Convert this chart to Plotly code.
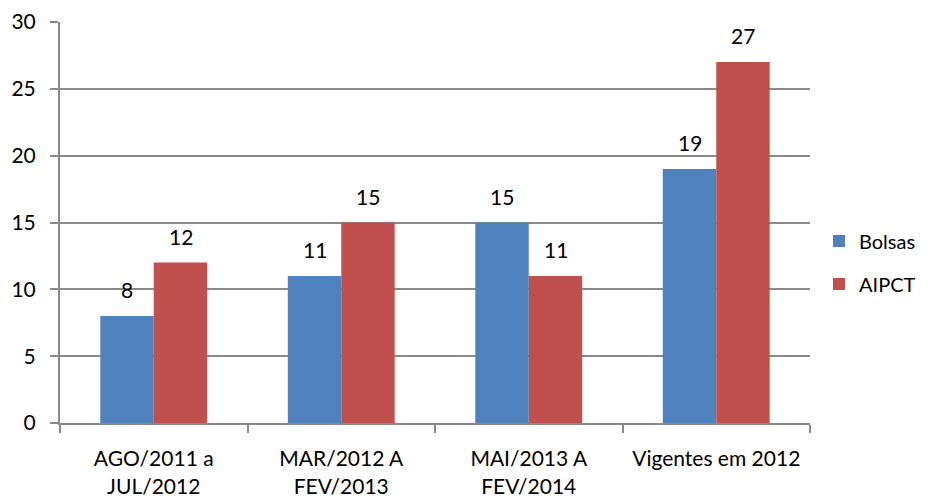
import plotly.graph_objects as go

categorias = ["AGO/2011 a<br>JUL/2012", "MAR/2012 A<br>FEV/2013", "MAI/2013 A<br>FEV/2014", "Vigentes em 2012"]
bolsas = [8, 11, 15, 19]
aipct = [12, 15, 11, 27]

fonte = "Lato, 'Open Sans', sans-serif"
cinza = "#898989"
tam = 21

fig = go.Figure()
fig.add_trace(go.Bar(x=categorias, y=bolsas, name="Bolsas", marker_color="#4F81BD",
                     marker_line_width=0, legendgroup="a"))
fig.add_trace(go.Bar(x=categorias, y=aipct, name="AIPCT", marker_color="#C0504D",
                     marker_line_width=0, legendgroup="b"))

# rótulos de dados acima das barras
for serie, desloc in ((bolsas, -26.75), (aipct, 26.75)):
    for c, v in zip(categorias, serie):
        fig.add_annotation(x=c, y=v, text=str(v), showarrow=False, xshift=desloc,
                           yanchor="bottom", yshift=12, font=dict(size=tam, color="black"))

# a página tem 8px de margem no body, por isso 927x495
fig.update_layout(
    width=927, height=495,
    margin=dict(l=52, r=125, t=14, b=80),
    barmode="group", bargap=0.43, bargroupgap=0,
    plot_bgcolor="white", paper_bgcolor="white",
    font=dict(family=fonte, size=tam, color="black"),
    legend=dict(x=1.012, xanchor="left", y=0.40, yanchor="middle", font=dict(size=20),
                itemwidth=30, tracegroupgap=14),
    xaxis=dict(showline=True, linecolor=cinza, linewidth=2, ticks="outside",
               tickson="boundaries", ticklen=8, tickcolor=cinza, tickwidth=2,
               tickangle=0, tickfont=dict(size=21), automargin=False, ticklabelstandoff=16),
    yaxis=dict(range=[0, 30], dtick=5, showline=True, linecolor=cinza, linewidth=2,
               showgrid=True, gridcolor=cinza, gridwidth=2, ticks="outside",
               ticklen=8, tickcolor=cinza, tickwidth=2, zeroline=False,
               tickfont=dict(size=tam), automargin=False, ticklabelstandoff=10),
)

fig.write_html("out.html")
